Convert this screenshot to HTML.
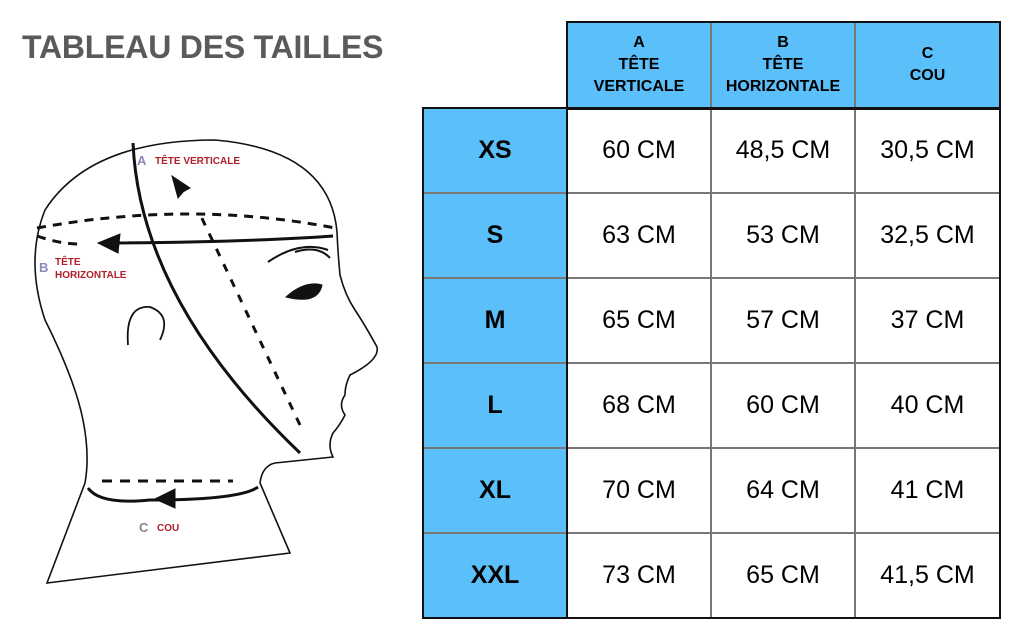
<!DOCTYPE html>
<html><head><meta charset="utf-8"><style>
body{margin:0;width:1024px;height:642px;background:#fff;position:relative;overflow:hidden;font-family:"Liberation Sans",Arial,sans-serif}
.t{position:absolute;left:22px;top:29px;font-size:32px;font-weight:bold;color:#5a5a5a;letter-spacing:-0.2px}
.c{position:absolute;box-sizing:border-box;display:flex;align-items:center;justify-content:center;text-align:center;font-size:25px;color:#000;border:1px solid #777}
.b{background:#5bbff9;font-weight:bold}
.hd{font-size:16px;line-height:22px}
.frame{position:absolute;box-sizing:border-box;border:2px solid #111;pointer-events:none}
</style></head><body>
<div class="t">TABLEAU DES TAILLES</div>
<svg width="400" height="642" style="position:absolute;left:0;top:0" fill="none" stroke="#111">
<path d="M47,583 L290,553 L260,483 Q262,466 275,463 L333,457 Q327,445 333,433 Q340,425 345,415 Q338,405 345,395 Q345,385 350,375 Q380,360 377,347 Q365,325 355,310 Q345,295 340,275 Q338,255 337,232 Q330,150 215,140 Q90,140 45,210 Q25,260 45,320 Q75,380 83,420 Q90,455 85,483 Z" stroke-width="1.6"/>
<path d="M133,143 Q140,300 300,453" stroke-width="3"/>
<path d="M300,425 L198,210" stroke-width="3" stroke-dasharray="8,9"/>
<path d="M172,176 L190,188 L183,192 L178,198 Z" fill="#111"/>
<path d="M37,228 Q190,200 335,228 M37,236 Q60,244 80,244" stroke-width="3" stroke-dasharray="9,7"/>
<path d="M333,236 Q250,242 115,243" stroke-width="3"/>
<path d="M98,243 L120,234 L118,253 Z" fill="#111" stroke-width="1"/>
<path d="M268,262 Q300,240 328,250 M295,252 Q318,245 330,258" stroke-width="2"/>
<path d="M286,297 Q305,280 322,285 Q318,305 286,297 Z" fill="#111"/>
<path d="M128,345 Q125,305 150,307 Q172,315 160,340" stroke-width="1.8"/>
<path d="M102,481 L233,481" stroke-width="3" stroke-dasharray="10,8"/>
<path d="M88,488 Q100,505 150,500 Q240,500 258,487" stroke-width="3"/>
<path d="M155,499 L175,489 L175,508 Z" fill="#111"/>
<g stroke="none" font-weight="bold" font-size="10">
<text x="137" y="165" fill="#8a8aba" font-size="13">A</text><text x="155" y="164" fill="#b0202a">TÊTE VERTICALE</text>
<text x="39" y="272" fill="#8a8aba" font-size="13">B</text><text x="55" y="265" fill="#b0202a">TÊTE</text><text x="55" y="278" fill="#b0202a">HORIZONTALE</text>
<text x="139" y="532" fill="#888" font-size="13">C</text><text x="157" y="531" fill="#b0202a">COU</text>
</g></svg>

<div class="c b hd" style="left:567px;top:22px;width:144px;height:86px">A<br>TÊTE<br>VERTICALE</div>
<div class="c b hd" style="left:711px;top:22px;width:144px;height:86px">B<br>TÊTE<br>HORIZONTALE</div>
<div class="c b hd" style="left:855px;top:22px;width:145px;height:86px">C<br>COU</div>

<div class="c b" style="left:423px;top:108px;width:144px;height:85px">XS</div>
<div class="c" style="left:567px;top:108px;width:144px;height:85px">60 CM</div>
<div class="c" style="left:711px;top:108px;width:144px;height:85px">48,5 CM</div>
<div class="c" style="left:855px;top:108px;width:145px;height:85px">30,5 CM</div>

<div class="c b" style="left:423px;top:193px;width:144px;height:85px">S</div>
<div class="c" style="left:567px;top:193px;width:144px;height:85px">63 CM</div>
<div class="c" style="left:711px;top:193px;width:144px;height:85px">53 CM</div>
<div class="c" style="left:855px;top:193px;width:145px;height:85px">32,5 CM</div>

<div class="c b" style="left:423px;top:278px;width:144px;height:85px">M</div>
<div class="c" style="left:567px;top:278px;width:144px;height:85px">65 CM</div>
<div class="c" style="left:711px;top:278px;width:144px;height:85px">57 CM</div>
<div class="c" style="left:855px;top:278px;width:145px;height:85px">37 CM</div>

<div class="c b" style="left:423px;top:363px;width:144px;height:85px">L</div>
<div class="c" style="left:567px;top:363px;width:144px;height:85px">68 CM</div>
<div class="c" style="left:711px;top:363px;width:144px;height:85px">60 CM</div>
<div class="c" style="left:855px;top:363px;width:145px;height:85px">40 CM</div>

<div class="c b" style="left:423px;top:448px;width:144px;height:85px">XL</div>
<div class="c" style="left:567px;top:448px;width:144px;height:85px">70 CM</div>
<div class="c" style="left:711px;top:448px;width:144px;height:85px">64 CM</div>
<div class="c" style="left:855px;top:448px;width:145px;height:85px">41 CM</div>

<div class="c b" style="left:423px;top:533px;width:144px;height:85px">XXL</div>
<div class="c" style="left:567px;top:533px;width:144px;height:85px">73 CM</div>
<div class="c" style="left:711px;top:533px;width:144px;height:85px">65 CM</div>
<div class="c" style="left:855px;top:533px;width:145px;height:85px">41,5 CM</div>

<div class="frame" style="left:566px;top:21px;width:435px;height:89px"></div>
<div class="frame" style="left:422px;top:107px;width:146px;height:512px"></div>
<div class="frame" style="left:422px;top:107px;width:579px;height:512px"></div>
</body></html>
